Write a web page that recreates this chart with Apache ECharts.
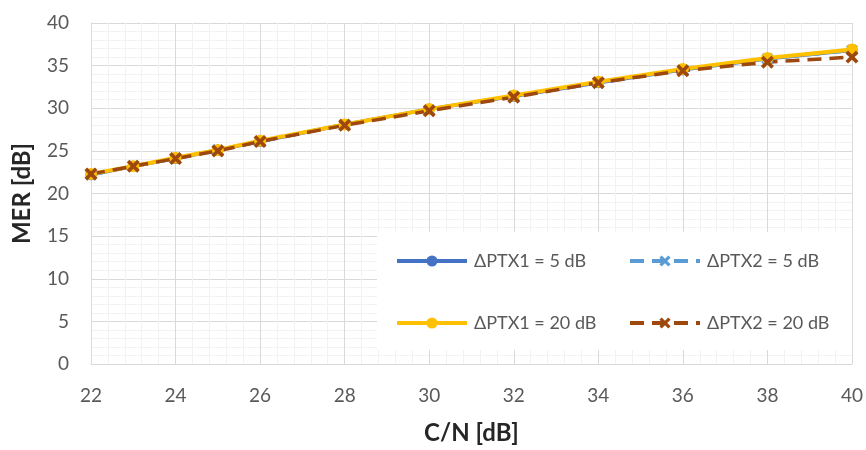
<!DOCTYPE html>
<html>
<head>
<meta charset="utf-8">
<script src="https://cdn.jsdelivr.net/npm/echarts@6/dist/echarts.min.js"></script>
<style>html,body{margin:0;padding:0;background:#fff}#c{width:866px;height:450px}</style>
</head>
<body>
<div id="c"></div>
<script>
const cn = [22, 23, 24, 25, 26, 28, 30, 32, 34, 36, 38, 40];
const ptx1_5  = [22.2, 23.2, 24.1, 25.1, 26.1, 28.1, 29.9, 31.4, 33.0, 34.5, 35.8, 36.8];
const ptx2_5  = [22.2, 23.2, 24.1, 25.1, 26.1, 28.1, 29.8, 31.4, 33.0, 34.5, 35.8, 36.8];
const ptx1_20 = [22.3, 23.2, 24.2, 25.1, 26.2, 28.1, 29.9, 31.5, 33.1, 34.6, 35.9, 36.9];
const ptx2_20 = [22.3, 23.2, 24.1, 25.0, 26.1, 28.0, 29.7, 31.3, 33.0, 34.4, 35.4, 36.0];
const names = ['ΔPTX1 = 5 dB', 'ΔPTX2 = 5 dB', 'ΔPTX1 = 20 dB', 'ΔPTX2 = 20 dB'];

const FONT = 'Lato, "Open Sans", sans-serif';
const X_SYM = 'path://M2,0 L5,3 L8,0 L10,2 L7,5 L10,8 L8,10 L5,7 L2,10 L0,8 L3,5 L0,2 Z';
const pair = arr => cn.map((x, i) => [x, arr[i]]);

const chart = echarts.init(document.getElementById('c'), null, {renderer: 'canvas'});
function mkLegend(name, left, top) {
  return {
    data: [name], left: left, top: top, orient: 'horizontal',
    itemWidth: 70, itemHeight: 14, padding: 0, z: 5,
    lineStyle: {width: 4},
    textStyle: {fontFamily: FONT, fontSize: 18, color: '#595959', padding: [0, 0, 0, 2]},
    selectedMode: false
  };
}
chart.setOption({
  animation: false,
  grid: {left: 91, right: 14, top: 23, bottom: 83},
  graphic: [{
    type: 'rect', z: 4, left: 377, top: 232,
    shape: {width: 475, height: 118},
    style: {fill: '#ffffff'}
  }],
  legend: [
    mkLegend(names[0], 395, 252),
    mkLegend(names[1], 628, 252),
    mkLegend(names[2], 395, 314),
    mkLegend(names[3], 628, 314)
  ],
  xAxis: {
    type: 'value', min: 22, max: 40, interval: 2,
    name: 'C/N [dB]', nameLocation: 'middle', nameGap: 57,
    nameTextStyle: {fontFamily: FONT, fontSize: 24, fontWeight: 'bold', color: '#262626'},
    axisLine: {show: true, lineStyle: {color: '#D9D9D9', width: 1}},
    axisTick: {show: false},
    axisLabel: {fontFamily: FONT, fontSize: 19, color: '#595959', margin: 22},
    splitLine: {show: true, lineStyle: {color: '#D9D9D9', width: 1}},
    minorTick: {show: false, splitNumber: 5},
    minorSplitLine: {show: true, lineStyle: {color: '#F2F2F2', width: 1}}
  },
  yAxis: {
    type: 'value', min: 0, max: 40, interval: 5,
    name: 'MER [dB]', nameLocation: 'middle', nameGap: 57,
    nameTextStyle: {fontFamily: FONT, fontSize: 24, fontWeight: 'bold', color: '#262626'},
    axisLine: {show: true, lineStyle: {color: '#D9D9D9', width: 1}},
    axisTick: {show: false},
    axisLabel: {fontFamily: FONT, fontSize: 19, color: '#595959', margin: 22},
    splitLine: {show: true, lineStyle: {color: '#D9D9D9', width: 1}},
    minorTick: {show: false, splitNumber: 5},
    minorSplitLine: {show: true, lineStyle: {color: '#F2F2F2', width: 1}}
  },
  series: [
    {name: names[0], type: 'line', data: pair(ptx1_5), symbol: 'circle', symbolSize: 11,
     showAllSymbol: true, lineStyle: {color: '#4472C4', width: 3.5}, itemStyle: {color: '#4472C4'}},
    {name: names[1], type: 'line', data: pair(ptx2_5), symbol: X_SYM, symbolSize: 12,
     showAllSymbol: true, lineStyle: {color: '#5B9BD5', width: 3.5, type: [14, 8]}, itemStyle: {color: '#5B9BD5'}},
    {name: names[2], type: 'line', data: pair(ptx1_20), symbol: 'circle', symbolSize: 12,
     showAllSymbol: true, lineStyle: {color: '#FFC000', width: 4}, itemStyle: {color: '#FFC000'}},
    {name: names[3], type: 'line', data: pair(ptx2_20), symbol: X_SYM, symbolSize: 13,
     showAllSymbol: true, lineStyle: {color: '#9E480E', width: 3.5, type: [14, 8]}, itemStyle: {color: '#9E480E'}}
  ]
});
</script>
</body>
</html>
